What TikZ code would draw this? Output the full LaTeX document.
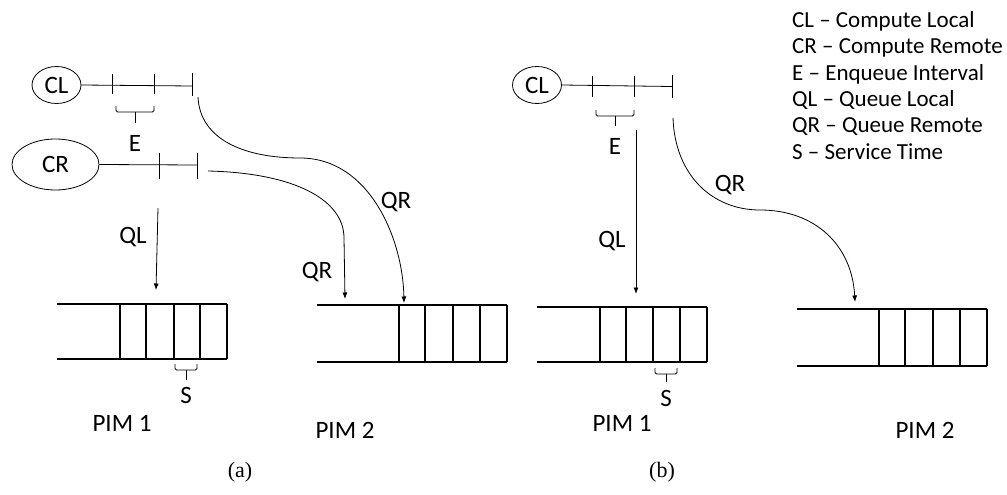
\documentclass[tikz,border=0pt]{standalone}
\usepackage{fontspec}
\setmainfont{Carlito}
\newfontfamily\capfont{Liberation Serif}
\usetikzlibrary{arrows.meta,shapes.geometric}
\begin{document}
\begin{tikzpicture}[x=1pt,y=-1pt,
  tl/.style={line width=0.8pt},
  conn/.style={line width=0.8pt,-{Latex[length=6.5pt,width=5pt]}},
  qline/.style={line width=1.7pt},
  bracket/.style={line width=0.9pt,rounded corners=1.5pt},
  lbl/.style={font=\fontsize{25}{29}\selectfont,inner sep=0pt},
  legend/.style={font=\fontsize{23}{27}\selectfont,inner sep=0pt,anchor=base west},
  proc/.style={draw,ellipse,line width=0.8pt,inner sep=0pt,font=\fontsize{25}{29}\selectfont},
  caption/.style={font=\capfont\fontsize{22}{26}\selectfont,inner sep=0pt}
]
\useasboundingbox (0,0) rectangle (1007,495);

% ---------------- legend ----------------
\node[legend] (leg1) at (792,27.5) {CL – Compute Local};
\node[legend] (leg2) at (792,53.8) {CR – Compute Remote};
\node[legend] (leg3) at (792,80.1) {E – Enqueue Interval};
\node[legend] (leg4) at (792,106.4) {QL – Queue Local};
\node[legend] (leg5) at (792,132.7) {QR – Queue Remote};
\node[legend] (leg6) at (792,159) {S – Service Time};

% ================= panel (a) =================
\node[proc,minimum width=49pt,minimum height=37pt] (CLa) at (56.5,85) {CL};
\coordinate (CLaend) at (192,86);
\draw[tl] (CLa.east) -- (CLaend);
\draw[tl] (112,74) -- (112,94);
\draw[tl] (154,74) -- (154,94);
\draw[tl] (192,73) -- (192,96);
\draw[bracket] (116,106) -- (116,112) -- (154,112) -- (154,106);
\draw[bracket] (135,112) -- (135,123);
\node[lbl] (Ea) at (135,143) {E};

\node[proc,minimum width=87pt,minimum height=51pt] (CRa) at (55.5,164.5) {CR};
\coordinate (CRaend) at (197,165);
\draw[tl] (CRa.east) -- (CRaend);
\draw[tl] (159,153) -- (159,179);
\draw[tl] (197,153) -- (197,179);

% queue PIM 1 (a)
\draw[qline] (57,304) -- (227,304);
\draw[qline] (57,359) -- (227,359);
\foreach \x in {120,146,174,200,227} \draw[qline] (\x,304) -- (\x,359);
\draw[bracket] (175,364) -- (175,370) -- (197,370) -- (197,364);
\draw[bracket] (186,370) -- (186,380);
\node[lbl] (Sa) at (186,395) {S};
\node[lbl] (PIM1a) at (122,423) {PIM 1};

% queue PIM 2 (a)
\draw[qline] (317,305) -- (507,305);
\draw[qline] (317,362) -- (507,362);
\foreach \x in {399,425,453,480,507} \draw[qline] (\x,305) -- (\x,362);
\node[lbl] (PIM2a) at (345,430) {PIM 2};

% connectors (a)
\coordinate (QLas) at (158,208);
\coordinate (QLae) at (156,290);
\draw[conn] (QLas) -- (QLae);
\node[lbl] (QLa) at (133,237) {QL};

\coordinate (QRas1) at (198,97);
\coordinate (QRae1) at (404,303);
\draw[conn] (QRas1) .. controls (200,140) and (245,158) .. (300,158)
                    .. controls (370,158) and (403,240) .. (QRae1);
\node[lbl] (QRa1) at (396,202) {QR};

\coordinate (QRas2) at (208,171);
\coordinate (QRae2) at (345,299);
\draw[conn] (QRas2) .. controls (295,173) and (344,200) .. (344,238) -- (QRae2);
\node[lbl] (QRa2) at (317,272) {QR};

\node[caption] (capa) at (240,472) {(a)};

% ================= panel (b) =================
\node[proc,minimum width=49pt,minimum height=37pt] (CLb) at (537,85) {CL};
\coordinate (CLbend) at (672,86.5);
\draw[tl] (CLb.east) -- (CLbend);
\draw[tl] (592,76) -- (592,97);
\draw[tl] (634,76) -- (634,97);
\draw[tl] (672,75) -- (672,98);
\draw[bracket] (596,110) -- (596,116) -- (634,116) -- (634,110);
\draw[bracket] (615,116) -- (615,126);
\node[lbl] (Eb) at (615,146) {E};

% queue PIM 1 (b)
\draw[qline] (537,307) -- (707,307);
\draw[qline] (537,362) -- (707,362);
\foreach \x in {600,626,653,680,707} \draw[qline] (\x,307) -- (\x,362);
\draw[bracket] (655,368) -- (655,374) -- (677,374) -- (677,368);
\draw[bracket] (666,374) -- (666,382);
\node[lbl] (Sb) at (666,398) {S};
\node[lbl] (PIM1b) at (622,423) {PIM 1};

% queue PIM 2 (b)
\draw[qline] (797,309) -- (987,309);
\draw[qline] (797,366) -- (987,366);
\foreach \x in {879,905,933,960,987} \draw[qline] (\x,309) -- (\x,366);
\node[lbl] (PIM2b) at (925,430) {PIM 2};

% connectors (b)
\coordinate (QLbs) at (636,130);
\coordinate (QLbe) at (636,294);
\draw[conn] (QLbs) -- (QLbe);
\node[lbl] (QLb) at (612,241) {QL};

\coordinate (QRbs) at (673,118);
\coordinate (QRbe) at (855,302);
\draw[conn] (QRbs) .. controls (675,175) and (712,210) .. (760,210)
                   .. controls (815,210) and (852,245) .. (QRbe);
\node[lbl] (QRb) at (730,185) {QR};

\node[caption] (capb) at (662,472) {(b)};
\end{tikzpicture}
\end{document}
